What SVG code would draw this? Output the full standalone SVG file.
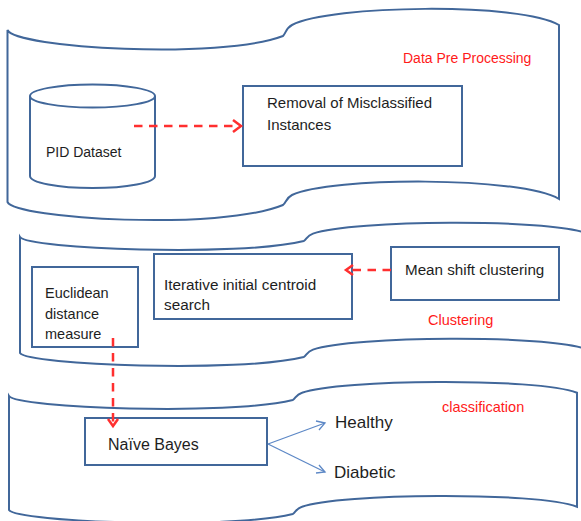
<svg xmlns="http://www.w3.org/2000/svg" width="581" height="521" viewBox="0 0 581 521">
<defs>
<style>
.band{fill:#fff;stroke:#41679a;stroke-width:2}
.box{fill:#fff;stroke:#41679a;stroke-width:2}
.t{font-family:"Liberation Sans",Arial,sans-serif;fill:#1e1e1e}
.lbl{font-family:"Liberation Sans",Arial,sans-serif;fill:#ff1a1a}
.dash{fill:none;stroke:#ff2f2f;stroke-width:2.5;stroke-dasharray:8.5 6.5}
.head{fill:none;stroke:#ff2f2f;stroke-width:2.5}
.blue{fill:none;stroke:#5d88c6;stroke-width:1.3}
</style>
</defs>
<rect width="581" height="521" fill="#fff"/>
<g id="stage-preprocessing">
<path class="band" d="M7.5,30 C15,48 220,60 283,36 C286,33 286,28 292,25 C330,5 520,2 559,25 L559,199 C520,176 330,177 292,195 C286,198 286,203 283,205 C220,231 15,219 7.5,202 Z"/>
<text class="lbl" x="403" y="63" font-size="14">Data Pre Processing</text>
</g>
<g id="stage-clustering">
<path class="band" d="M20,237 C27.7,249 238.9,257.1 303.8,241 C306.9,239 306.9,235.7 313,233.6 C352,220.2 548,218.2 588,233.6 L588,349.6 C548,334.2 352,336.2 313,349.6 C306.9,351.7 306.9,355 303.8,357 C238.9,373.1 27.7,365 20,353 Z"/>
<text class="lbl" x="428" y="325" font-size="14.5">Clustering</text>
</g>
<g id="stage-classification">
<path class="band" d="M9,396 C16.7,407.9 227.9,415.9 292.8,400 C295.9,398 295.9,394.7 302,392.7 C338.2,379.4 536.9,377.4 577,392.7 L577,506.7 C536.9,491.4 338.2,493.4 302,506.7 C295.9,508.7 295.9,512 292.8,514 C227.9,529.9 16.7,521.9 9,510 Z"/>
<text class="lbl" x="442" y="412" font-size="14.5">classification</text>
</g>
<g id="pid-dataset">
<path class="box" d="M30,96 L30,176 A62,12 0 0 0 155,176 L155,96"/>
<ellipse class="box" cx="92.5" cy="96" rx="62.5" ry="11.5"/>
<text class="t" x="46" y="157" font-size="14">PID Dataset</text>
</g>
<g id="removal">
<rect class="box" x="243" y="86" width="219" height="80"/>
<text class="t" x="267" y="108" font-size="15">Removal of Misclassified</text>
<text class="t" x="267" y="130" font-size="15">Instances</text>
</g>
<g id="euclidean">
<rect class="box" x="32" y="267" width="106" height="80"/>
<text class="t" x="45" y="298" font-size="14.5">Euclidean</text>
<text class="t" x="45" y="319" font-size="14.5">distance</text>
<text class="t" x="45" y="339" font-size="14.5">measure</text>
</g>
<g id="iterative">
<rect class="box" x="154" y="254" width="198" height="65"/>
<text class="t" x="164" y="290" font-size="15.3">Iterative initial centroid</text>
<text class="t" x="164" y="310" font-size="15.3">search</text>
</g>
<g id="mean-shift">
<rect class="box" x="391" y="247" width="168" height="53"/>
<text class="t" x="405" y="275" font-size="15.2">Mean shift clustering</text>
</g>
<g id="naive-bayes">
<rect class="box" x="85" y="418" width="182" height="47"/>
<text class="t" x="108" y="450" font-size="16">Naïve Bayes</text>
</g>
<g id="healthy">
<text class="t" x="335" y="428" font-size="17">Healthy</text>
</g>
<g id="diabetic">
<text class="t" x="334" y="478" font-size="17">Diabetic</text>
</g>
<g id="connectors">
<path class="dash" d="M134,126 H240"/>
<path class="head" d="M233,120 L241,126 L233,132"/>
<path class="dash" d="M391,270 H348"/>
<path class="head" d="M353,265 L346,270 L353,275"/>
<path class="dash" d="M113,338 V424"/>
<path class="head" d="M108,419 L113,426 L118,419"/>
<path class="blue" d="M268,444 L325,423"/>
<path class="blue" d="M316,421 L325,423 L319,430"/>
<path class="blue" d="M268,444 L325,472"/>
<path class="blue" d="M319,465 L325,472 L316,473"/>
</g>
</svg>
